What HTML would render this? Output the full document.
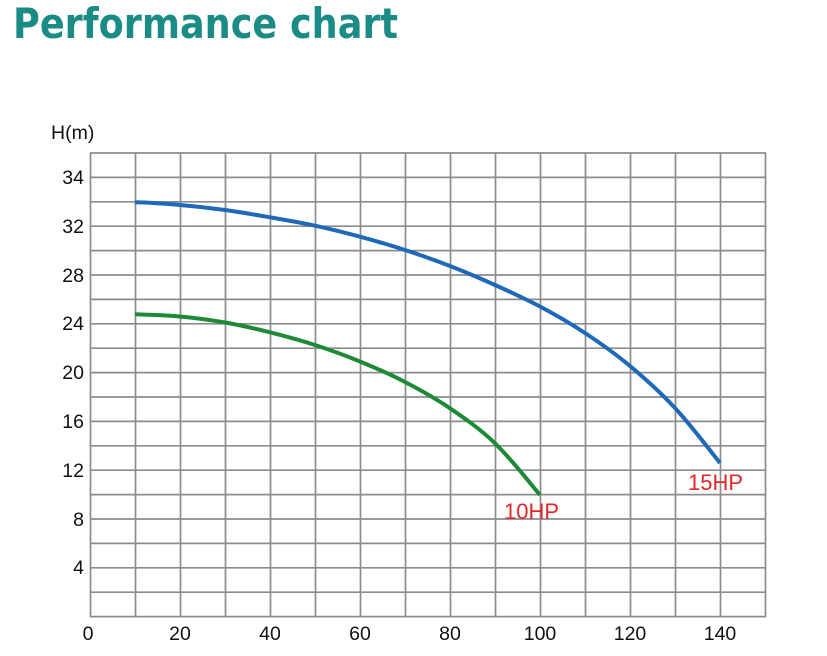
<!DOCTYPE html>
<html>
<head>
<meta charset="utf-8">
<style>
  html, body { margin:0; padding:0; background:#ffffff; }
  body { width:827px; height:656px; overflow:hidden; }
  svg { display:block; }
</style>
</head>
<body>
<svg width="827" height="656" viewBox="0 0 827 656" xmlns="http://www.w3.org/2000/svg">
  <rect width="827" height="656" fill="#ffffff"/>
  <text x="13" y="38" font-family="'DejaVu Sans', 'Liberation Sans', sans-serif" font-weight="bold" font-size="42" fill="#1b8b85" textLength="385" lengthAdjust="spacingAndGlyphs">Performance chart</text>

  <g stroke="#8c8c8c" stroke-width="1.7" fill="none">
    <line x1="90.5" y1="153" x2="90.5" y2="617"/>
    <line x1="135.5" y1="153" x2="135.5" y2="617"/>
    <line x1="180.5" y1="153" x2="180.5" y2="617"/>
    <line x1="225.5" y1="153" x2="225.5" y2="617"/>
    <line x1="270.5" y1="153" x2="270.5" y2="617"/>
    <line x1="315.5" y1="153" x2="315.5" y2="617"/>
    <line x1="360.5" y1="153" x2="360.5" y2="617"/>
    <line x1="405.5" y1="153" x2="405.5" y2="617"/>
    <line x1="450.5" y1="153" x2="450.5" y2="617"/>
    <line x1="495.5" y1="153" x2="495.5" y2="617"/>
    <line x1="540.5" y1="153" x2="540.5" y2="617"/>
    <line x1="585.5" y1="153" x2="585.5" y2="617"/>
    <line x1="630.5" y1="153" x2="630.5" y2="617"/>
    <line x1="675.5" y1="153" x2="675.5" y2="617"/>
    <line x1="720.5" y1="153" x2="720.5" y2="617"/>
    <line x1="765.5" y1="153" x2="765.5" y2="617"/>
    <line x1="90" y1="153" x2="766" y2="153"/>
    <line x1="90" y1="177.4" x2="766" y2="177.4"/>
    <line x1="90" y1="201.8" x2="766" y2="201.8"/>
    <line x1="90" y1="226.2" x2="766" y2="226.2"/>
    <line x1="90" y1="250.6" x2="766" y2="250.6"/>
    <line x1="90" y1="275" x2="766" y2="275"/>
    <line x1="90" y1="299.4" x2="766" y2="299.4"/>
    <line x1="90" y1="323.8" x2="766" y2="323.8"/>
    <line x1="90" y1="348.2" x2="766" y2="348.2"/>
    <line x1="90" y1="372.6" x2="766" y2="372.6"/>
    <line x1="90" y1="397" x2="766" y2="397"/>
    <line x1="90" y1="421.4" x2="766" y2="421.4"/>
    <line x1="90" y1="445.8" x2="766" y2="445.8"/>
    <line x1="90" y1="470.2" x2="766" y2="470.2"/>
    <line x1="90" y1="494.6" x2="766" y2="494.6"/>
    <line x1="90" y1="519" x2="766" y2="519"/>
    <line x1="90" y1="543.4" x2="766" y2="543.4"/>
    <line x1="90" y1="567.8" x2="766" y2="567.8"/>
    <line x1="90" y1="592.2" x2="766" y2="592.2"/>
    <line x1="90" y1="616.6" x2="766" y2="616.6"/>
  </g>

  <g font-family="'Liberation Sans', Arial, sans-serif" font-size="19.5" fill="#111111">
    <text x="51" y="139">H(m)</text>
    <g text-anchor="end">
      <text x="84" y="184">34</text>
      <text x="84" y="233">32</text>
      <text x="84" y="282">28</text>
      <text x="84" y="330">24</text>
      <text x="84" y="379">20</text>
      <text x="84" y="428">16</text>
      <text x="84" y="477">12</text>
      <text x="84" y="526">8</text>
      <text x="84" y="574">4</text>
    </g>
    <g text-anchor="middle">
      <text x="88" y="640">0</text>
      <text x="180" y="640">20</text>
      <text x="270" y="640">40</text>
      <text x="360" y="640">60</text>
      <text x="450" y="640">80</text>
      <text x="540" y="640">100</text>
      <text x="630" y="640">120</text>
      <text x="720" y="640">140</text>
    </g>
  </g>

  <!-- 15HP curve -->
  <path fill="none" stroke="#1f69b8" stroke-width="4" stroke-linecap="butt"
    d="M135,202.3 C150,202.6 165,203.717 180,205 C195,206.283 210,207.95 225,210 C240,212.05 255,214.683 270,217.3 C285,219.917 300,222.467 315,225.7 C330,228.933 345,232.65 360,236.7 C375,240.75 390,245.117 405,250 C420,254.883 435,260.167 450,266 C465,271.833 480,278.25 495,285 C510,291.75 525,298.5 540,306.5 C555,314.5 570,323.083 585,333 C600,342.917 615,353.5 630,366 C645,378.5 660,391.833 675,408 C690,424.167 705,444 720,463"/>
  <!-- 10HP curve -->
  <path fill="none" stroke="#1e8a37" stroke-width="4" stroke-linecap="butt"
    d="M135,314.3 C150,314.8 165,315.133 180,316.5 C195,317.867 210,319.867 225,322.5 C240,325.133 255,328.55 270,332.3 C285,336.05 300,340.133 315,345 C330,349.867 345,355.333 360,361.5 C375,367.667 390,374.2 405,382 C420,389.8 435,398.083 450,408.3 C465,418.517 480,428.85 495,443.3 C510,457.75 525,477 540,495"/>

  <g font-family="'Liberation Sans', Arial, sans-serif" font-size="22" fill="#e0282a">
    <text x="688" y="490">15HP</text>
    <text x="504" y="519">10HP</text>
  </g>
</svg>
</body>
</html>
